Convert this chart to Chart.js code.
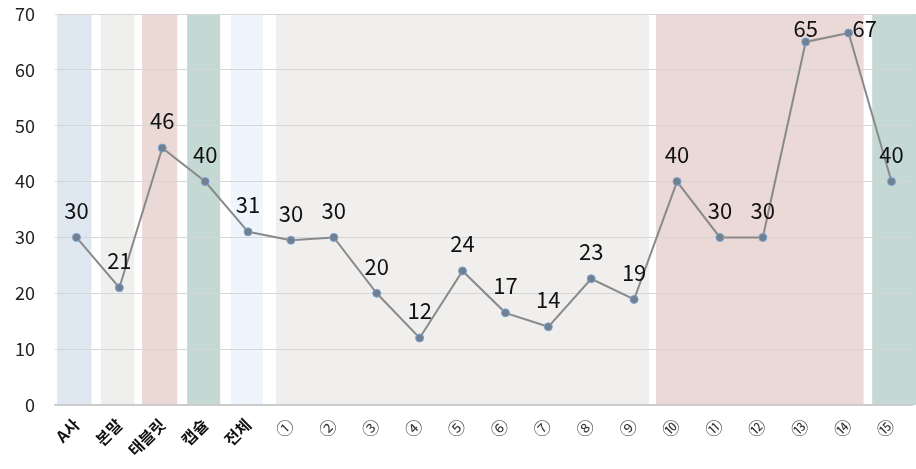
<!DOCTYPE html>
<html>
<head>
<meta charset="utf-8">
<script src="https://cdn.jsdelivr.net/npm/chart.js@4.4.0/dist/chart.umd.min.js"></script>
<style>
  html, body { margin: 0; padding: 0; background: #fff; }
  #wrap { width: 916px; height: 469px; position: relative; }
</style>
</head>
<body>
<div id="wrap"><canvas id="lineChart"></canvas></div>
<script>
const categories = ['A사', '본말', '태블릿', '캡슐', '전체',
    '①', '②', '③', '④', '⑤', '⑥', '⑦', '⑧', '⑨',
    '⑩', '⑪', '⑫', '⑬', '⑭', '⑮'];
const values = [30, 21, 46, 40, 31, 29.5, 30, 20, 12, 24, 16.5, 14, 22.6, 18.9, 40, 30, 30, 65, 66.6, 40];
const yTicks = [0, 10, 20, 30, 40, 50, 60, 70];

// background bands: first index, last index, colour, left inset (in categories)
const bandGroups = [
    [0, 0, '#dfe7f1', 0.45],
    [1, 1, '#efefee', 0.43],
    [2, 2, '#ebd9d6', 0.47],
    [3, 3, '#c4d9d3', 0.42],
    [4, 4, '#eef5fd', 0.40],
    [5, 13, '#f0efee', 0.35],
    [14, 18, '#ebd9d7', 0.49],
    [19, 19, '#c4d9d5', 0.45]
];

const FONT = '"Noto Sans CJK KR", "Noto Sans", sans-serif';

const bandPlugin = {
    id: 'bands',
    beforeDraw(chart) {
        const x = chart.scales.x, area = chart.chartArea, c = chart.ctx;
        const step = x.getPixelForValue(1) - x.getPixelForValue(0);
        c.save();
        bandGroups.forEach(([a, b, col, inset]) => {
            let left = x.getPixelForValue(a) - step * inset;
            let right = b === categories.length - 1
                ? chart.width
                : x.getPixelForValue(b) + step * 0.35;
            c.fillStyle = col;
            c.fillRect(left, area.top, right - left, area.bottom - area.top);
        });
        c.restore();
    }
};

const labelPlugin = {
    id: 'valueLabels',
    afterDatasetsDraw(chart) {
        const c = chart.ctx, area = chart.chartArea;
        const meta = chart.getDatasetMeta(0);
        c.save();
        c.font = '22px ' + FONT;
        c.fillStyle = '#111';
        c.textBaseline = 'middle';
        meta.data.forEach((pt, i) => {
            let cx = pt.x, cy = Math.max(pt.y - 27, area.top + 14.5);
            c.textAlign = 'center';
            if (pt.y - cy < 12) { c.textAlign = 'left'; cx = pt.x + 4; }
            c.fillText(String(Math.round(values[i])), cx, cy);
        });
        c.restore();
    }
};

const ctx = document.getElementById('lineChart').getContext('2d');
const lineChart = new Chart(ctx, {
    type: 'line',
    data: {
        labels: categories,
        datasets: [{
            data: values,
            borderColor: '#8a8a8a',
            borderWidth: 2,
            pointRadius: 4,
            pointBackgroundColor: '#717f8e',
            pointBorderColor: '#7aa3d2',
            pointBorderWidth: 1,
            tension: 0
        }]
    },
    options: {
        responsive: true,
        maintainAspectRatio: false,
        animation: false,
        layout: { autoPadding: false, padding: { top: 14, right: 3, left: 0, bottom: 0 } },
        plugins: {
            legend: { display: false },
            tooltip: { enabled: false }
        },
        scales: {
            x: {
                offset: true,
                afterFit: (s) => { s.height = 64; s.paddingTop = 0; s.paddingBottom = 0; },
                grid: { display: false, drawTicks: false },
                border: { display: true, color: '#c9c9c9', width: 1.5 },
                ticks: {
                    autoSkip: false,
                    minRotation: 45,
                    maxRotation: 45,
                    padding: 10,
                    color: (c) => c.index < 5 ? '#111' : '#333',
                    font: (c) => c.index < 5
                        ? { family: FONT, size: 16, weight: 'bold' }
                        : { family: FONT, size: 17 }
                }
            },
            y: {
                min: 0,
                max: 70,
                afterFit: (s) => { s.width = 55; s.paddingTop = 0; s.paddingBottom = 0; },
                afterBuildTicks: (s) => { s.ticks = yTicks.map(v => ({ value: v })); },
                grid: { color: '#d6d6d6', lineWidth: 1, drawTicks: false },
                border: { display: false },
                ticks: {
                    padding: 20,
                    color: '#222',
                    font: { family: FONT, size: 18 }
                }
            }
        }
    },
    plugins: [bandPlugin, labelPlugin]
});
</script>
</body>
</html>
